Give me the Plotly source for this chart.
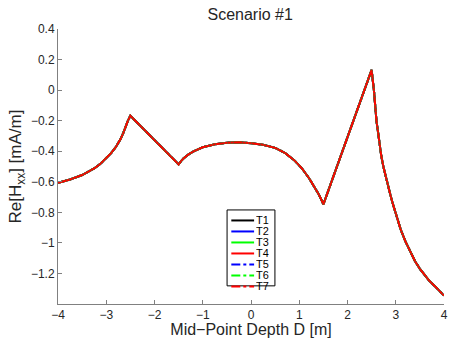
import plotly.graph_objects as go

# values
depth = [-4.0, -3.75, -3.5, -3.25, -3.125, -3.0, -2.9, -2.8, -2.75, -2.7, -2.65, -2.6, -2.55, -2.5,
         -1.5, -1.45, -1.4, -1.3, -1.2, -1.0, -0.75, -0.5, -0.25, 0.0, 0.25, 0.5, 0.7, 0.9,
         1.05, 1.2, 1.3, 1.4, 1.45, 1.5,
         2.5, 2.55, 2.6, 2.65, 2.7, 2.75, 2.8, 2.85, 2.9, 2.95, 3.0, 3.1, 3.2, 3.3, 3.4,
         3.5, 3.6, 3.7, 3.8, 3.9, 4.0]
re_hxx = [-0.607, -0.585, -0.556, -0.513, -0.483, -0.447, -0.413, -0.372, -0.348, -0.318, -0.283, -0.238, -0.2, -0.168,
          -0.486, -0.465, -0.448, -0.422, -0.402, -0.374, -0.355, -0.345, -0.342, -0.347, -0.358, -0.378, -0.41, -0.46,
          -0.51, -0.575, -0.625, -0.68, -0.712, -0.748,
          0.132, -0.01, -0.2, -0.33, -0.43, -0.51, -0.58, -0.64, -0.7, -0.755, -0.81, -0.91, -0.99, -1.06, -1.12,
          -1.17, -1.21, -1.25, -1.28, -1.315, -1.345]

names = ['T1', 'T2', 'T3', 'T4', 'T5', 'T6', 'T7']
colors = ['#000000', '#0000ff', '#00ff00', '#ff0000', '#0000ff', '#00ff00', '#ff0000']
dashes = ['solid', 'solid', 'solid', 'solid', 'dashdot', 'dashdot', 'dashdot']

font = 'Liberation Sans, Arial, Helvetica, sans-serif'

fig = go.Figure()
for n, c, d in zip(names, colors, dashes):
    fig.add_trace(go.Scatter(x=depth, y=re_hxx, mode='lines', name=n,
                             line=dict(color=c, width=2, dash=d), showlegend=False))

# hand-made legend box (plotly's own legend can't pack rows this tight)
ph = 274.9
x0, x1 = 0.438, 0.562
y0, y1 = 0.066, 0.342
fig.add_shape(type='rect', xref='paper', yref='paper', x0=x0, x1=x1, y0=y0, y1=y1,
              line=dict(color='#000000', width=1), fillcolor='white', layer='above')
for i, (n, c, d) in enumerate(zip(names, colors, dashes)):
    yy = y1 - (5 + 5.5 + i * 11) / ph
    fig.add_shape(type='line', xref='paper', yref='paper', x0=0.449, x1=0.508, y0=yy, y1=yy,
                  line=dict(color=c, width=2, dash=d), layer='above')
    fig.add_annotation(x=0.511, y=yy, xref='paper', yref='paper', text=n, showarrow=False,
                       xanchor='left', yanchor='middle', height=10, borderpad=0,
                       font=dict(size=11, color='#000000'))

axis_style = dict(showline=True, linecolor='#808080', linewidth=1, mirror=False,
                  ticks='inside', ticklen=4, tickcolor='#808080', showgrid=False,
                  zeroline=False, automargin=False, tickfont=dict(size=12, color='#262626'))

fig.update_layout(
    width=450, height=338,
    margin=dict(l=58, r=6, t=29, b=34),
    paper_bgcolor='white', plot_bgcolor='white',
    font=dict(family=font, color='#262626'),
    title=dict(text='Scenario #1', x=0.556, xanchor='center', y=1 - 14 / 338,
               yanchor='middle', font=dict(size=16, color='#262626')),
    xaxis=dict(range=[-4, 4], tickvals=[-4, -3, -2, -1, 0, 1, 2, 3, 4],
               title=dict(text='Mid\u2212Point Depth D [m]', font=dict(size=16), standoff=3),
               **axis_style),
    yaxis=dict(range=[-1.4, 0.4], tickvals=[-1.2, -1, -0.8, -0.6, -0.4, -0.2, 0, 0.2, 0.4],
               title=dict(text='Re[H<sub>xx</sub>] [mA/m]', font=dict(size=17), standoff=4),
               **axis_style),
)

# the page body has an 8px default margin, drop it so the figure sits at 0,0
fig.write_html('out.html', config={'displayModeBar': False},
               post_script="document.body.style.margin='0';")
